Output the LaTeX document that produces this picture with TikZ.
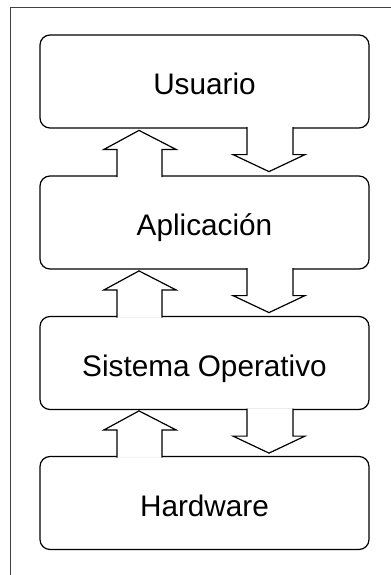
\documentclass[tikz,border=0pt]{standalone}
\usepackage{fontspec}
\setmainfont{Liberation Sans}
\usetikzlibrary{calc}

\tikzset{capa/.style={draw, rounded corners=7.5pt, minimum width=246.75pt, minimum height=69.75pt, line width=0.9pt, inner sep=0pt, font=\fontsize{22.3}{27}\selectfont, text height=19.5pt, text depth=0pt}}
\tikzset{flecha/.style={draw, fill=white, line width=0.9pt, line join=miter}}

\begin{document}
\begin{tikzpicture}[x=0.75pt,y=0.75pt,yscale=-1,xscale=1]
	%set diagram size: 391 x 575
	\clip (0,0) rectangle (391,575);

	%Frame
	\draw [color=black!75, line width=0.75pt] (10,7) rectangle (420,600);

	%Layers
	\node [capa] (usuario) at (204.5,81.5) {Usuario};
	\node [capa] (aplicacion) at (204.5,222.5) {Aplicación};
	\node [capa] (so) at (204.5,363) {Sistema Operativo};
	\node [capa] (hardware) at (204.5,503) {Hardware};

	%Up arrows
	\draw [flecha] ($(aplicacion.north)+(-87.5,1.6)$) -- ($(aplicacion.north)+(-87.5,-26)$) -- ($(aplicacion.north)+(-100.5,-26)$) -- ($(aplicacion.north)+(-65.5,-45)$) -- ($(aplicacion.north)+(-28.5,-26)$) -- ($(aplicacion.north)+(-42.5,-26)$) -- ($(aplicacion.north)+(-42.5,1.6)$) ;
	\draw [flecha] ($(so.north)+(-87.5,1.6)$) -- ($(so.north)+(-87.5,-26)$) -- ($(so.north)+(-100.5,-26)$) -- ($(so.north)+(-65.5,-45)$) -- ($(so.north)+(-28.5,-26)$) -- ($(so.north)+(-42.5,-26)$) -- ($(so.north)+(-42.5,1.6)$) ;
	\draw [flecha] ($(hardware.north)+(-87.5,1.6)$) -- ($(hardware.north)+(-87.5,-26)$) -- ($(hardware.north)+(-100.5,-26)$) -- ($(hardware.north)+(-65.5,-45)$) -- ($(hardware.north)+(-28.5,-26)$) -- ($(hardware.north)+(-42.5,-26)$) -- ($(hardware.north)+(-42.5,1.6)$) ;

	%Down arrows
	\draw [flecha] ($(usuario.south)+(42.5,-1.6)$) -- ($(usuario.south)+(42.5,26)$) -- ($(usuario.south)+(28.5,26)$) -- ($(usuario.south)+(64.5,43)$) -- ($(usuario.south)+(100.5,26)$) -- ($(usuario.south)+(88.5,26)$) -- ($(usuario.south)+(88.5,-1.6)$) ;
	\draw [flecha] ($(aplicacion.south)+(42.5,-1.6)$) -- ($(aplicacion.south)+(42.5,26)$) -- ($(aplicacion.south)+(28.5,26)$) -- ($(aplicacion.south)+(64.5,43)$) -- ($(aplicacion.south)+(100.5,26)$) -- ($(aplicacion.south)+(88.5,26)$) -- ($(aplicacion.south)+(88.5,-1.6)$) ;
	\draw [flecha] ($(so.south)+(42.5,-1.6)$) -- ($(so.south)+(42.5,26)$) -- ($(so.south)+(28.5,26)$) -- ($(so.south)+(64.5,43)$) -- ($(so.south)+(100.5,26)$) -- ($(so.south)+(88.5,26)$) -- ($(so.south)+(88.5,-1.6)$) ;

\end{tikzpicture}
\end{document}
